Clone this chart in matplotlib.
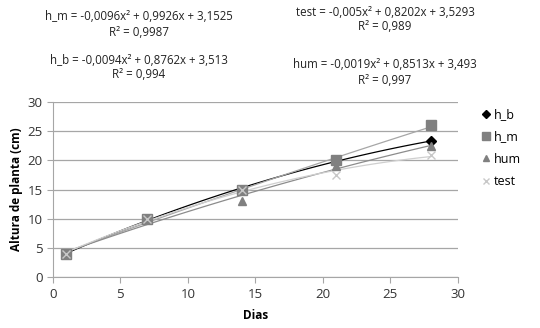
import matplotlib
matplotlib.use("Agg")
import matplotlib.pyplot as plt
import numpy as np

plt.rcParams['font.family'] = ['Open Sans', 'DejaVu Sans']

dias = [1, 7, 14, 21, 28]
h_b = [4, 10, 15, 20, 23.3]
h_m = [4, 10, 15, 20, 26]
hum = [4, 10, 13, 19, 22.5]
test = [4, 10, 15, 17.5, 21]

eq_textos = [
    ("h_m = -0,0096x² + 0,9926x + 3,1525", "R² = 0,9987"),
    ("h_b = -0,0094x² + 0,8762x + 3,513", "R² = 0,994"),
    ("test = -0,005x² + 0,8202x + 3,5293", "R² = 0,989"),
    ("hum = -0,0019x² + 0,8513x + 3,493", "R² = 0,997"),
]

fig = plt.figure(figsize=(5.4, 3.28), dpi=100)
ax = fig.add_axes([0.098, 0.155, 0.750, 0.534])

xx = np.linspace(1, 28, 100)
series = [
    ("h_b", h_b, "D", "black", "black", 5),
    ("h_m", h_m, "s", "#808080", "#a6a6a6", 7),
    ("hum", hum, "^", "#808080", "#8c8c8c", 6),
    ("test", test, "x", "#c8c8c8", "#cfcfcf", 6),
]
handles = []
for nome, ys, mk, mc, lc, ms in series:
    cf = np.polyfit(dias, ys, 2)
    ax.plot(xx, np.polyval(cf, xx), color=lc, lw=0.9, zorder=2)

z = 3
for nome, ys, mk, mc, lc, ms in series:
    h, = ax.plot(dias, ys, linestyle="none", marker=mk, color=mc, ms=ms,
                 mew=1.0, label=nome, zorder=z)
    handles.append(h)
    z += 1

ax.set_xlim(0, 30)
ax.set_ylim(0, 30)
ax.set_xticks(range(0, 31, 5))
ax.set_yticks(range(0, 31, 5))
ax.grid(axis="y", color="#a6a6a6", lw=0.9)
ax.set_axisbelow(True)
for s in ["top", "right"]:
    ax.spines[s].set_visible(False)
for s in ["left", "bottom"]:
    ax.spines[s].set_color("#a6a6a6")
ax.tick_params(colors="#a6a6a6", labelcolor="#333333", labelsize=9.5, length=4)
ax.set_xlabel("Dias", fontsize=8.5, fontweight="bold", labelpad=6)
ax.set_ylabel("Altura de planta (cm)", fontsize=8.5, fontweight="bold", labelpad=3)

leg = ax.legend(handles=handles, loc="upper left", bbox_to_anchor=(1.03, 1.03),
                frameon=False, fontsize=9, handlelength=0.8, handletextpad=0.2,
                labelspacing=0.75, markerscale=0.75)

posicoes = [(139, 17), (139, 60), (385, 12), (385, 65)]
for (eq, r2), (px, py) in zip(eq_textos, posicoes):
    fig.text(px / 540, 1 - py / 328, eq, ha="center", va="center", fontsize=8.3, color="#222222")
    fig.text(px / 540, 1 - (py + 15) / 328, r2, ha="center", va="center", fontsize=8.3, color="#222222")

fig.savefig("out.png", dpi=100)
